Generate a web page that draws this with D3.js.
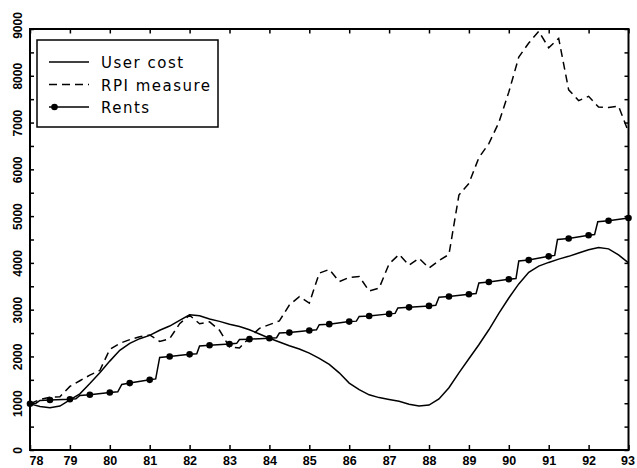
<!DOCTYPE html>
<html lang="en">
<head>
<meta charset="UTF-8">
<title>User cost, RPI measure and rents</title>
<script src="https://d3js.org/d3.v7.min.js"></script>
<style>
  body { margin: 0; background: #fff; }
  svg { display: block; }
  .tick line { stroke: #000; stroke-width: 1.5; }
  .tick text { font-family: "Liberation Sans", Arial, sans-serif; font-weight: bold; fill: #000; }
</style>
</head>
<body>
<script>
// quarterly observations, 1978 to 1993
var quarters = d3.range(0, 61).map(function(i){ return 78 + i / 4; });

var userCost = [
   986,  930,  905,  940, 1070, 1200, 1420, 1650, 1900, 2130,
  2280, 2380, 2450, 2560, 2650, 2770, 2890, 2870, 2800, 2750,
  2690, 2640, 2570, 2480, 2390, 2310, 2230, 2160, 2070, 1960,
  1830, 1650, 1430, 1290, 1180, 1120, 1080, 1040,  980,  943,
   960, 1090, 1330, 1650, 1950, 2250, 2570, 2920, 3250, 3550,
  3800, 3930, 4010, 4080, 4140, 4210, 4280, 4330, 4300, 4170,
  4000
];

var rpiMeasure = [
   990, 1080, 1130, 1140, 1360, 1480, 1600, 1700, 2150, 2280,
  2360, 2420, 2460, 2320, 2380, 2700, 2880, 2700, 2740, 2560,
  2200, 2180, 2400, 2600, 2680, 2760, 3100, 3280, 3140, 3780,
  3860, 3600, 3690, 3710, 3400, 3460, 3980, 4180, 3950, 4100,
  3890, 4050, 4180, 5450, 5700, 6250, 6550, 7000, 7650, 8400,
  8700, 8950, 8600, 8800, 7700, 7470, 7560, 7330, 7320, 7350,
  6800
];

// rents move in steps once a year; markers every half year
var rentYears = [
  78.0, 78.15, 78.25, 78.5, 79.0, 79.15, 79.25, 79.5, 80.0, 80.2, 80.3, 80.5,
  81.0, 81.15, 81.25, 81.5, 82.0, 82.18, 82.25, 82.5, 83.0, 83.18, 83.25, 83.5,
  84.0, 84.18, 84.25, 84.5, 85.0, 85.18, 85.25, 85.5, 86.0, 86.18, 86.25, 86.5,
  87.0, 87.15, 87.22, 87.5, 88.0, 88.17, 88.25, 88.5, 89.0, 89.18, 89.25, 89.5,
  90.0, 90.18, 90.25, 90.5, 91.0, 91.15, 91.22, 91.5, 92.0, 92.15, 92.23, 92.5,
  93.0
];
var rents = [
   990, 1000, 1060, 1070, 1085, 1095, 1165, 1180, 1230, 1245, 1400, 1430,
  1500, 1520, 1980, 2000, 2045, 2055, 2225, 2240, 2265, 2280, 2360, 2370,
  2390, 2400, 2500, 2510, 2555, 2570, 2680, 2690, 2745, 2755, 2855, 2865,
  2910, 2920, 3035, 3050, 3080, 3095, 3265, 3280, 3330, 3345, 3570, 3590,
  3650, 3665, 4040, 4060, 4140, 4160, 4500, 4520, 4590, 4605, 4880, 4900,
  4960
];

var yearTicks = d3.range(78, 94);
var valueTicks = d3.range(0, 9001, 500);
var legendLabels = ["User cost", "RPI measure", "Rents"];

var width = 637, height = 468;
var plotLeft = 30, plotRight = 628.5, plotTop = 29, plotBottom = 450;

var svg = d3.select("body").append("svg")
  .attr("width", width)
  .attr("height", height);

var x = d3.scaleLinear().domain([78, 93]).range([plotLeft, plotRight]);
var y = d3.scaleLinear().domain([0, 9000]).range([plotBottom, plotTop]);

// axes, ticks pointing into the plot
var gx = svg.append("g")
  .attr("transform", "translate(0," + plotBottom + ")")
  .call(d3.axisBottom(x).tickValues(yearTicks).tickSize(-5).tickPadding(6).tickFormat(d3.format("d")));
gx.selectAll("text").style("font-size", "12.5px");
gx.selectAll(".tick").filter(function(d){ return d === 78; }).select("text")
  .attr("text-anchor", "start").attr("x", -1);
gx.selectAll(".tick").filter(function(d){ return d === 93; }).select("text")
  .attr("text-anchor", "end").attr("x", 6);

svg.append("g")
  .attr("transform", "translate(0," + plotTop + ")")
  .call(d3.axisTop(x).tickValues(yearTicks).tickSize(-4.5).tickFormat(""));

var gy = svg.append("g")
  .attr("transform", "translate(" + plotLeft + ",0)")
  .call(d3.axisLeft(y).tickValues(valueTicks).tickSize(-4)
    .tickFormat(function(d){ return d % 1000 === 0 ? d : ""; }));
gy.selectAll("text")
  .attr("x", null).attr("dy", null)
  .attr("text-anchor", "middle")
  .attr("transform", "translate(-8.5,0) rotate(-90)")
  .style("font-size", "12px");
gy.selectAll(".tick").filter(function(d){ return d === 9000; }).select("text")
  .attr("transform", "translate(-8.5,-4) rotate(-90)");

svg.append("g")
  .attr("transform", "translate(" + plotRight + ",0)")
  .call(d3.axisRight(y).tickValues(valueTicks).tickSize(-4).tickFormat(""));

svg.selectAll(".domain").remove();

svg.append("rect")
  .attr("x", plotLeft).attr("y", plotTop)
  .attr("width", plotRight - plotLeft).attr("height", plotBottom - plotTop)
  .attr("fill", "none").attr("stroke", "#000").attr("stroke-width", 2);

// series
var line = d3.line()
  .x(function(d){ return x(d[0]); })
  .y(function(d){ return y(d[1]); });

svg.append("path")
  .datum(d3.zip(quarters, userCost))
  .attr("d", line)
  .attr("fill", "none").attr("stroke", "#000").attr("stroke-width", 1.5);

svg.append("path")
  .datum(d3.zip(quarters, rpiMeasure))
  .attr("d", line)
  .attr("fill", "none").attr("stroke", "#000").attr("stroke-width", 1.5)
  .attr("stroke-dasharray", "8,5");

var rentData = d3.zip(rentYears, rents);
svg.append("path")
  .datum(rentData)
  .attr("d", line)
  .attr("fill", "none").attr("stroke", "#000").attr("stroke-width", 1.5);

svg.selectAll("circle.rent")
  .data(rentData.filter(function(d){ return Math.abs(d[0] * 2 - Math.round(d[0] * 2)) < 1e-6; }))
  .enter().append("circle")
  .attr("class", "rent")
  .attr("cx", function(d){ return x(d[0]); })
  .attr("cy", function(d){ return y(d[1]); })
  .attr("r", 3.3)
  .attr("fill", "#000");

// legend
var legend = svg.append("g");
legend.append("rect")
  .attr("x", 37).attr("y", 40).attr("width", 181).attr("height", 87)
  .attr("fill", "#fff").attr("stroke", "#000").attr("stroke-width", 1.5);

var rows = legend.selectAll("g.row")
  .data(legendLabels)
  .enter().append("g")
  .attr("class", "row")
  .attr("transform", function(d, i){ return "translate(0," + (62 + i * 22.5) + ")"; });

rows.append("line")
  .attr("x1", 49).attr("x2", 89).attr("y1", 0).attr("y2", 0)
  .attr("stroke", "#000").attr("stroke-width", 1.5)
  .attr("stroke-dasharray", function(d, i){ return i === 1 ? "8,5" : null; });

rows.filter(function(d, i){ return i === 2; }).append("circle")
  .attr("cx", 54.5).attr("cy", 0).attr("r", 3.3).attr("fill", "#000");

rows.append("text")
  .attr("x", 101).attr("y", 6)
  .style("font-family", "'DejaVu Sans', sans-serif")
  .style("font-size", "15px")
  .style("letter-spacing", "1.5px")
  .text(function(d){ return d; });
</script>
</body>
</html>
